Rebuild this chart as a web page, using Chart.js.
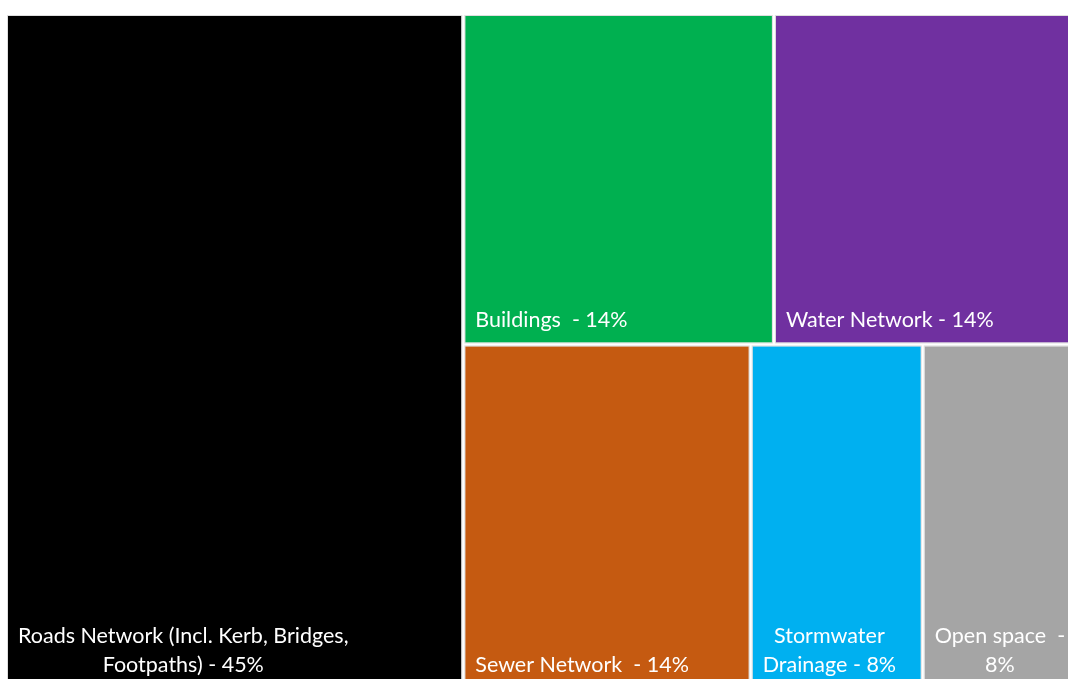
<!DOCTYPE html>
<html>
<head>
<meta charset="utf-8">
<title>Treemap</title>
<script src="https://cdn.jsdelivr.net/npm/chart.js@4.4.1/dist/chart.umd.min.js"></script>
<style>
  html, body { margin: 0; padding: 0; overflow: hidden; background: #ffffff; }
  /* the original picture is cropped on the right and at the bottom */
  #wrap { position: absolute; left: 0; top: 0; width: 1078px; height: 689px; }
</style>
</head>
<body>
<div id="wrap"><canvas id="treemap"></canvas></div>
<script>
// names as written in the cells (double spaces kept)
var categories = ["Roads Network (Incl. Kerb, Bridges, Footpaths)", "Buildings ", "Water Network", "Sewer Network ", "Stormwater Drainage", "Open space "];
// share printed in each label, %
var shareLabels = [45, 14, 14, 14, 8, 8];
// cell areas
var areaValues = [42.7, 14.2, 13.9, 13.7, 8.2, 7.4];
var cellColors = ['#000000', '#00B050', '#7030A0', '#C55A11', '#00B0F0', '#A5A5A5'];
// first item fills the left column, the rest is split in these rows
var rowGroups = [[1, 2], [3, 4, 5]];

var gap = 4;
var labelFont = '21.5px Lato';

function buildCells() {
  var total = areaValues.reduce(function(a, b) { return a + b; }, 0);
  var cells = [];
  var colRight = areaValues[0] / total * 100;
  cells[0] = { x0: 0, x1: colRight, y0: 0, y1: 100 };
  var restTotal = total - areaValues[0];
  var top = 0;
  rowGroups.forEach(function(row) {
    var rowSum = row.reduce(function(a, i) { return a + areaValues[i]; }, 0);
    var bottom = top + rowSum / restTotal * 100;
    var left = colRight;
    row.forEach(function(i) {
      var right = left + areaValues[i] / rowSum * (100 - colRight);
      cells[i] = { x0: left, x1: right, y0: top, y1: bottom };
      left = right;
    });
    top = bottom;
  });
  return cells.map(function(c, i) {
    return {
      x: (c.x0 + c.x1) / 2, y: (c.y0 + c.y1) / 2,
      x0: c.x0, x1: c.x1, y0: c.y0, y1: c.y1,
      label: categories[i] + ' - ' + shareLabels[i] + '%',
      color: cellColors[i]
    };
  });
}

function wrapText(ctx, text, maxW) {
  var words = text.split(' ');
  var lines = [];
  var line = words[0];
  for (var i = 1; i < words.length; i++) {
    var test = line + ' ' + words[i];
    if (words[i] !== '' && ctx.measureText(test).width > maxW && line.trim() !== '') {
      lines.push(line.replace(/\s+$/, ''));
      line = words[i];
    } else {
      line = test;
    }
  }
  lines.push(line);
  return lines;
}

var treemapCells = {
  id: 'treemapCells',
  beforeDatasetsDraw: function(chart) {
    var ctx = chart.ctx;
    var xs = chart.scales.x, ys = chart.scales.y;
    ctx.save();
    chart.data.datasets[0].data.forEach(function(cell) {
      var l = xs.getPixelForValue(cell.x0) + gap / 2;
      var r = xs.getPixelForValue(cell.x1) - gap / 2;
      var t = ys.getPixelForValue(cell.y0) + gap / 2;
      var b = ys.getPixelForValue(cell.y1) - gap / 2;
      ctx.fillStyle = cell.color;
      ctx.fillRect(l, t, r - l, b - t);
      ctx.strokeStyle = 'rgba(200,200,200,0.6)';
      ctx.lineWidth = 1;
      ctx.strokeRect(l - 0.5, t - 0.5, r - l + 1, b - t + 1);

      ctx.font = labelFont;
      ctx.fillStyle = '#ffffff';
      ctx.textBaseline = 'middle';
      ctx.textAlign = 'center';
      var lines = wrapText(ctx, cell.label, r - l - 20);
      var blockW = Math.max.apply(null, lines.map(function(s) { return ctx.measureText(s).width; }));
      var cx = l + 10 + blockW / 2;
      var lineH = 28.5;
      lines.forEach(function(s, k) {
        ctx.fillText(s, cx, b - 22 - (lines.length - 1 - k) * lineH);
      });
    });
    ctx.restore();
  }
};

new Chart(document.getElementById('treemap').getContext('2d'), {
  type: 'scatter',
  data: {
    datasets: [{
      label: 'Cells',
      data: buildCells(),
      pointRadius: 0,
      pointHoverRadius: 0
    }]
  },
  options: {
    responsive: true,
    maintainAspectRatio: false,
    animation: false,
    layout: { padding: { left: 6, top: 14, right: 0, bottom: 0 } },
    scales: {
      x: { type: 'linear', min: 0, max: 100, display: false },
      y: { type: 'linear', min: 0, max: 100, reverse: true, display: false }
    },
    plugins: {
      legend: { display: false },
      tooltip: { enabled: false }
    }
  },
  plugins: [treemapCells]
});
</script>
</body>
</html>
